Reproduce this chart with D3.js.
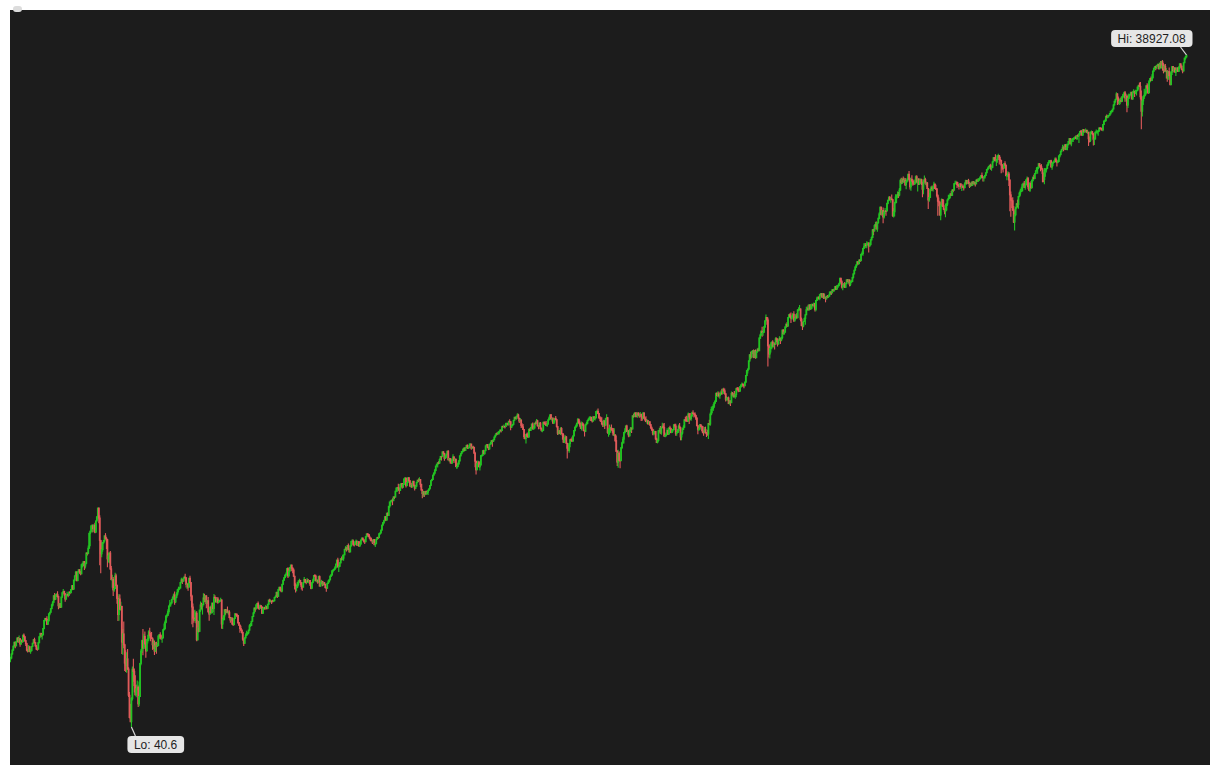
<!DOCTYPE html>
<html>
<head>
<meta charset="utf-8">
<script src="https://cdn.jsdelivr.net/npm/d3@7"></script>
<style>
  html, body { margin: 0; padding: 0; background: #ffffff; }
  svg { display: block; }
</style>
</head>
<body>
<svg id="chart" width="1220" height="775"></svg>
<script>
// Monthly candles, Jan 1922 .. Feb 2024 (Dow Jones Industrial Average, log scale)
const startYear = 1922;
const firstOpen = 81.1;
const closes = [
/*1922*/ 82.0,85.5,89.0,92.5,96.4,93.0,97.1,100.8,97.0,100.0,94.7,98.2,
/*1923*/ 97.0,103.6,102.0,98.0,95.0,89.0,88.0,92.0,87.9,88.5,92.3,95.5,
/*1924*/ 99.0,96.0,93.0,90.0,89.9,96.0,102.0,105.6,103.0,104.0,111.0,120.5,
/*1925*/ 123.0,122.0,116.0,120.0,129.0,131.0,136.0,141.0,145.0,155.0,150.0,156.7,
/*1926*/ 157.0,154.0,140.0,143.0,138.0,153.0,160.0,162.0,158.0,150.0,156.0,157.2,
/*1927*/ 156.0,161.0,160.0,165.0,172.0,166.0,182.0,190.0,197.0,181.0,198.0,202.4,
/*1928*/ 198.0,194.0,213.0,216.0,220.0,210.0,216.0,240.0,239.0,252.0,293.0,300.0,
/*1929*/ 317.0,317.0,308.0,319.0,297.0,333.0,347.0,380.0,343.0,273.0,238.0,248.5,
/*1930*/ 267.0,272.0,286.0,279.0,275.0,226.0,233.0,240.0,204.0,183.0,183.0,164.6,
/*1931*/ 167.0,190.0,172.0,151.0,128.0,150.0,135.0,139.0,96.6,105.0,93.9,77.9,
/*1932*/ 76.2,81.4,73.3,56.1,44.7,42.8,54.3,73.2,71.6,61.9,56.4,59.9,
/*1933*/ 60.9,51.4,55.4,77.7,88.1,98.1,90.8,102.4,94.8,88.2,98.1,99.9,
/*1934*/ 107.2,103.5,101.0,100.5,94.0,95.7,88.1,93.0,92.6,93.4,102.9,104.0,
/*1935*/ 101.7,100.6,100.8,109.5,110.6,118.2,126.2,127.0,131.9,139.7,142.3,144.1,
/*1936*/ 149.5,152.5,156.3,145.7,152.6,157.7,164.9,166.3,167.8,177.4,182.5,179.9,
/*1937*/ 184.7,187.2,186.4,174.3,174.7,169.3,185.5,177.4,154.6,138.2,123.5,120.9,
/*1938*/ 121.9,129.6,98.9,111.4,107.7,133.9,141.2,139.3,141.4,151.7,149.8,154.8,
/*1939*/ 143.3,147.3,131.8,128.6,138.0,130.6,143.3,136.2,152.5,151.9,145.7,150.2,
/*1940*/ 145.3,146.5,147.5,148.4,116.2,121.9,126.1,134.5,132.6,133.8,131.0,131.1,
/*1941*/ 124.1,121.0,122.7,116.2,115.3,123.1,128.8,127.4,126.8,117.8,114.7,111.0,
/*1942*/ 109.1,106.6,99.5,95.4,100.9,103.3,105.7,106.3,109.1,114.1,114.5,119.4,
/*1943*/ 125.4,130.0,136.6,135.5,141.2,143.4,137.0,136.2,140.1,138.3,129.6,135.9,
/*1944*/ 137.4,136.3,138.8,136.2,142.2,148.4,146.1,146.9,146.7,146.5,147.3,152.3,
/*1945*/ 153.8,160.4,154.1,165.4,169.1,164.9,162.9,174.3,181.7,186.6,191.5,192.9,
/*1946*/ 204.7,190.1,199.6,206.8,212.3,205.6,201.6,189.2,172.4,169.2,169.8,177.2,
/*1947*/ 180.4,181.4,177.2,170.6,169.3,177.3,183.2,178.9,177.5,181.8,179.4,181.2,
/*1948*/ 175.0,167.3,177.2,180.5,190.7,189.5,181.3,181.7,178.3,188.6,171.2,177.3,
/*1949*/ 179.1,173.1,177.1,174.1,168.4,167.4,175.9,178.7,182.5,189.5,191.6,200.1,
/*1950*/ 201.8,203.4,206.1,214.3,223.4,209.1,209.4,216.9,226.4,225.0,227.6,235.4,
/*1951*/ 248.8,252.1,247.9,259.1,249.7,242.6,257.9,270.3,271.2,262.4,261.3,269.2,
/*1952*/ 270.7,260.1,269.5,257.6,262.9,274.3,279.6,275.0,271.0,269.2,283.7,291.9,
/*1953*/ 289.8,284.3,279.9,274.8,272.3,268.3,275.4,261.2,264.0,276.0,281.4,280.9,
/*1954*/ 292.4,294.5,303.5,319.3,327.5,333.5,347.9,335.8,360.5,352.1,386.8,404.4,
/*1955*/ 408.8,411.9,409.7,425.7,424.9,451.4,465.9,468.2,466.6,454.9,483.3,488.4,
/*1956*/ 470.7,483.7,511.8,516.1,478.1,492.8,517.8,502.0,475.3,479.9,472.8,499.5,
/*1957*/ 479.2,464.6,474.8,494.4,504.9,503.3,508.5,484.4,456.3,441.0,449.9,435.7,
/*1958*/ 450.0,439.9,446.8,455.9,462.7,478.2,502.9,508.6,532.1,543.2,557.5,583.7,
/*1959*/ 594.0,603.5,601.7,624.0,643.8,643.6,674.9,664.4,631.7,646.6,659.2,679.4,
/*1960*/ 622.6,630.1,616.6,601.7,625.5,640.6,616.7,626.0,580.1,580.4,597.2,615.9,
/*1961*/ 648.2,662.1,676.6,678.7,696.7,684.0,705.4,719.9,701.2,703.9,721.6,731.1,
/*1962*/ 700.0,708.1,707.0,665.3,613.4,561.3,597.9,609.2,579.0,589.8,649.3,652.1,
/*1963*/ 682.9,662.9,682.5,717.7,727.0,706.9,695.4,729.3,732.8,755.2,750.5,763.0,
/*1964*/ 785.3,800.1,813.3,810.8,820.6,831.5,841.1,838.5,875.4,873.1,875.4,874.1,
/*1965*/ 903.0,903.5,889.1,922.3,918.0,868.0,881.7,893.1,930.6,960.8,946.7,969.3,
/*1966*/ 983.5,951.9,924.8,933.7,884.1,870.1,847.4,788.4,774.2,807.1,791.6,785.7,
/*1967*/ 849.9,839.4,866.0,897.1,852.6,860.3,904.2,901.3,926.7,879.7,875.8,905.1,
/*1968*/ 855.5,840.5,840.7,912.2,899.0,897.8,883.0,896.0,935.8,952.4,985.1,943.8,
/*1969*/ 946.1,905.2,935.5,950.2,937.6,873.2,815.5,836.7,813.1,856.0,812.3,800.4,
/*1970*/ 744.1,777.6,785.6,736.1,700.4,683.5,734.1,764.6,760.7,755.6,794.1,838.9,
/*1971*/ 868.5,878.8,904.4,941.8,907.8,891.1,858.4,898.1,887.2,839.0,831.3,890.2,
/*1972*/ 902.2,928.1,940.7,954.2,960.7,929.0,924.7,963.7,953.3,955.5,1018,1020,
/*1973*/ 999.0,955.1,951.0,921.4,901.4,891.7,926.4,887.6,947.1,956.6,822.3,850.9,
/*1974*/ 855.6,860.5,846.7,836.8,802.2,802.4,757.4,678.6,607.9,665.5,618.7,616.2,
/*1975*/ 703.7,739.1,768.2,821.3,832.3,879.0,831.5,835.3,793.9,836.0,860.7,852.4,
/*1976*/ 975.3,972.6,999.5,996.9,975.2,1003,984.6,973.7,990.2,964.9,947.2,1004.7,
/*1977*/ 954.4,936.4,919.1,926.9,898.7,916.3,890.1,861.5,847.1,818.4,829.7,831.2,
/*1978*/ 769.9,742.1,757.4,837.3,840.6,819.0,862.3,876.8,865.8,792.5,799.0,805.0,
/*1979*/ 839.2,808.8,862.2,854.9,822.3,842.0,846.4,887.6,878.6,815.7,822.4,838.7,
/*1980*/ 875.9,863.1,785.8,817.1,850.9,867.9,935.3,932.6,932.4,924.5,993.3,964.0,
/*1981*/ 947.3,974.6,1003.9,997.8,991.8,976.9,952.3,881.5,850.0,853.2,889.0,875.0,
/*1982*/ 871.1,824.4,822.8,848.4,819.5,811.9,808.6,901.3,896.3,991.7,1039.3,1046.5,
/*1983*/ 1075.7,1112.6,1130.0,1226.2,1200.0,1222.0,1199.2,1216.2,1233.1,1225.2,1276.0,1258.6,
/*1984*/ 1220.6,1154.6,1164.9,1170.8,1104.9,1132.4,1115.3,1224.4,1206.7,1207.4,1188.9,1211.6,
/*1985*/ 1286.8,1284.0,1266.8,1258.1,1315.4,1335.5,1347.5,1334.0,1328.6,1374.3,1472.1,1546.7,
/*1986*/ 1571.0,1709.1,1818.6,1784.0,1876.7,1892.7,1775.3,1898.3,1767.6,1877.8,1914.2,1896.0,
/*1987*/ 2158.0,2224.0,2304.7,2286.4,2291.6,2418.5,2572.1,2663.0,2596.3,1993.5,1833.6,1938.8,
/*1988*/ 1958.2,2071.6,1988.1,2032.3,2031.1,2141.7,2128.7,2031.7,2112.9,2148.7,2114.5,2168.6,
/*1989*/ 2342.3,2258.4,2293.6,2418.8,2480.2,2440.1,2660.7,2737.3,2692.8,2645.1,2706.3,2753.2,
/*1990*/ 2590.5,2627.3,2707.2,2656.8,2876.7,2880.7,2905.2,2614.4,2452.5,2442.3,2559.7,2633.7,
/*1991*/ 2736.4,2882.2,2913.9,2887.9,3027.5,2906.8,3024.8,3043.6,3016.8,3069.1,2894.7,3168.8,
/*1992*/ 3223.4,3267.7,3235.5,3359.1,3396.9,3318.5,3393.8,3257.4,3271.7,3226.3,3305.2,3301.1,
/*1993*/ 3310.0,3370.8,3435.1,3427.6,3527.4,3516.1,3539.5,3651.3,3555.1,3680.6,3684.0,3754.1,
/*1994*/ 3978.4,3832.0,3636.0,3681.7,3758.4,3625.0,3764.5,3913.4,3843.2,3908.1,3739.2,3834.4,
/*1995*/ 3843.9,4011.1,4157.7,4321.3,4465.1,4556.1,4708.5,4610.6,4789.1,4755.5,5074.5,5117.1,
/*1996*/ 5395.3,5485.6,5587.1,5569.1,5643.2,5654.6,5528.9,5616.2,5882.2,6029.4,6521.7,6448.3,
/*1997*/ 6813.1,6877.7,6583.5,7009.0,7331.0,7672.8,8222.6,7622.4,7945.3,7442.1,7823.1,7908.3,
/*1998*/ 7906.5,8545.7,8799.8,9063.4,8900.0,8952.0,8883.3,7539.1,7842.6,8592.1,9116.6,9181.4,
/*1999*/ 9358.8,9306.6,9786.2,10789,10560,10971,10655,10829,10337,10730,10878,11497,
/*2000*/ 10941,10128,10922,10734,10522,10448,10522,11215,10651,10971,10415,10788,
/*2001*/ 10887,10495,9879,10735,10912,10502,10523,9950,8848,9075,9852,10022,
/*2002*/ 9920,10106,10404,9946,9925,9243,8737,8664,7592,8397,8896,8342,
/*2003*/ 8054,7891,7992,8480,8850,8985,9234,9416,9275,9801,9783,10454,
/*2004*/ 10488,10584,10358,10226,10188,10436,10140,10174,10080,10028,10428,10783,
/*2005*/ 10490,10766,10504,10193,10468,10275,10641,10482,10569,10440,10806,10718,
/*2006*/ 10865,10993,11109,11367,11168,11150,11186,11381,11679,12081,12222,12463,
/*2007*/ 12622,12269,12354,13063,13628,13409,13212,13358,13896,13930,13372,13265,
/*2008*/ 12650,12266,12263,12820,12638,11350,11378,11544,10851,9325,8829,8776,
/*2009*/ 8001,7063,7609,8168,8500,8447,9172,9496,9712,9713,10345,10428,
/*2010*/ 10067,10325,10857,11009,10137,9774,10466,10015,10788,11119,11006,11578,
/*2011*/ 11892,12226,12320,12811,12570,12414,12143,11614,10913,11955,12046,12218,
/*2012*/ 12633,12952,13212,13214,12393,12880,13009,13091,13437,13097,13026,13104,
/*2013*/ 13861,14055,14579,14840,15116,14910,15500,14810,15130,15546,16086,16577,
/*2014*/ 15699,16322,16458,16581,16717,16827,16563,17098,17043,17391,17828,17823,
/*2015*/ 17165,18133,17776,17841,18011,17620,17690,16528,16285,17664,17720,17425,
/*2016*/ 16466,16517,17685,17774,17787,17930,18432,18401,18308,18142,19124,19763,
/*2017*/ 19864,20812,20663,20941,21009,21350,21891,21948,22405,23377,24272,24719,
/*2018*/ 26149,25029,24103,24163,24416,24271,25415,25965,26458,25116,25539,23328,
/*2019*/ 25000,25916,25929,26593,24815,26600,26864,26403,26917,27046,28051,28538,
/*2020*/ 28256,25409,21917,24346,25383,25813,26428,28430,27782,26502,29639,30607,
/*2021*/ 29983,30932,32982,33875,34529,34503,34936,35361,33844,35820,34484,36338,
/*2022*/ 35132,33893,34678,32977,32990,30775,32845,31510,28726,32733,34590,33147,
/*2023*/ 34086,32657,33274,34098,32908,34408,35560,34722,33508,33053,35951,37690,
/*2024*/ 38150,38797
];
const highs = [
/*1922*/ 83.2,86.0,89.5,93.5,96.8,96.5,97.5,101.0,101.5,103.4,100.5,99.0,
/*1923*/ 99.5,104.0,105.4,102.5,98.5,96.0,90.0,93.7,92.5,89.5,92.8,95.8,
/*1924*/ 99.5,101.0,96.5,93.5,91.5,96.5,102.5,105.6,105.5,105.0,111.5,121.0,
/*1925*/ 123.6,123.5,125.7,120.5,129.5,131.5,136.5,143.0,147.0,156.0,159.4,157.0,
/*1926*/ 159.0,162.3,155.0,144.0,144.0,153.5,160.5,166.1,163.0,159.0,157.0,161.5,
/*1927*/ 158.5,161.5,162.0,166.0,172.5,172.5,182.5,190.5,199.8,199.0,198.5,202.5,
/*1928*/ 203.0,199.0,214.0,216.9,220.9,221.0,217.0,241.0,241.7,259.0,295.6,300.0,
/*1929*/ 317.5,322.0,321.0,320.0,327.0,333.8,350.0,380.3,381.2,352.9,273.0,267.6,
/*1930*/ 268.0,274.0,286.1,294.1,282.0,276.9,240.4,241.0,245.1,210.0,192.0,187.7,
/*1931*/ 176.6,196.3,194.4,174.0,155.0,157.9,157.1,146.0,140.0,110.5,119.2,95.0,
/*1932*/ 88.8,87.0,89.9,74.6,58.0,51.4,55.0,75.2,81.4,73.8,68.9,62.6,
/*1933*/ 65.2,62.0,64.6,77.9,90.0,99.0,110.5,105.1,107.7,99.6,99.8,104.0,
/*1934*/ 109.1,111.9,106.0,107.0,101.0,99.4,98.2,96.7,96.8,95.7,103.0,105.0,
/*1935*/ 106.7,104.0,101.7,110.0,116.8,120.4,126.5,129.3,135.1,140.0,148.4,144.6,
/*1936*/ 150.0,154.4,158.8,161.9,153.1,160.6,165.6,170.2,169.2,178.5,186.2,184.0,
/*1937*/ 187.4,190.3,194.4,187.0,177.2,175.7,186.1,190.4,178.1,156.8,143.1,133.3,
/*1938*/ 134.3,132.1,132.5,121.0,119.7,134.5,146.3,144.5,142.9,158.9,158.4,155.5,
/*1939*/ 156.0,148.6,153.2,133.0,138.9,140.3,145.0,144.7,157.8,155.9,153.0,150.4,
/*1940*/ 153.3,148.9,148.8,152.1,149.5,124.0,127.0,134.6,135.5,135.2,138.9,133.2,
/*1941*/ 133.6,124.7,124.9,124.6,117.6,123.9,130.1,128.8,129.3,126.8,118.4,115.7,
/*1942*/ 114.2,109.9,107.4,100.2,101.1,105.4,108.4,107.4,109.6,116.0,117.3,119.7,
/*1943*/ 125.6,131.3,137.4,137.5,142.1,143.9,146.4,138.7,141.8,140.9,138.9,136.2,
/*1944*/ 138.6,137.6,141.1,139.1,142.3,148.6,150.5,148.9,147.4,148.7,148.5,152.9,
/*1945*/ 155.9,161.5,161.5,165.7,169.4,169.9,168.5,174.3,182.1,187.0,192.1,196.6,
/*1946*/ 205.4,207.5,200.6,208.3,212.5,211.5,207.6,205.0,190.0,176.0,174.4,178.5,
/*1947*/ 180.9,184.5,182.0,177.6,172.0,178.0,187.7,184.0,179.5,186.0,183.9,182.2,
/*1948*/ 181.6,175.4,177.4,184.3,191.1,193.2,192.0,183.5,182.6,190.2,190.6,178.7,
/*1949*/ 182.5,180.5,178.9,178.5,175.3,169.5,176.0,182.0,183.3,190.2,193.6,200.5,
/*1950*/ 202.1,204.1,209.8,215.3,223.5,228.4,211.4,219.0,227.0,231.7,235.5,236.0,
/*1951*/ 250.0,257.3,255.0,259.5,264.3,251.5,258.3,270.7,276.4,275.6,264.1,270.1,
/*1952*/ 275.4,271.1,269.6,270.0,264.0,274.4,280.3,280.3,276.1,272.5,284.3,292.0,
/*1953*/ 293.8,292.1,290.6,281.0,280.3,273.1,275.8,277.0,265.3,276.3,282.5,283.5,
/*1954*/ 293.0,296.1,304.0,319.3,328.0,336.9,348.5,350.4,361.0,363.0,388.0,404.5,
/*1955*/ 408.9,413.0,419.7,427.0,427.5,451.4,468.5,468.5,487.5,466.8,487.4,488.7,
/*1956*/ 488.5,485.7,513.0,521.0,518.0,493.6,519.0,521.0,506.0,490.0,492.0,500.0,
/*1957*/ 500.0,481.5,477.0,495.0,506.0,514.0,520.8,510.0,486.0,461.0,451.0,452.0,
/*1958*/ 452.0,455.0,450.0,456.0,463.0,479.0,503.0,513.0,532.5,546.0,567.0,584.0,
/*1959*/ 597.0,605.0,613.0,630.0,644.0,645.0,675.0,678.1,666.0,650.0,660.0,680.0,
/*1960*/ 685.5,636.0,634.0,630.0,626.0,658.0,644.0,632.0,628.0,596.0,605.0,617.0,
/*1961*/ 649.0,664.0,680.0,696.0,706.0,706.0,706.0,726.0,728.0,708.0,734.0,735.0,
/*1962*/ 732.0,712.0,718.0,708.0,676.0,615.0,600.0,617.0,610.0,594.0,649.5,655.0,
/*1963*/ 684.0,690.0,684.0,718.0,728.0,729.0,710.0,730.0,747.0,761.0,760.0,767.0,
/*1964*/ 788.0,801.0,819.0,827.0,830.0,833.0,851.0,845.0,876.0,882.0,892.0,878.0,
/*1965*/ 905.0,906.0,906.0,923.0,940.9,920.0,886.0,896.0,932.0,962.0,962.0,974.0,
/*1966*/ 1001,995.0,953.0,954.0,938.0,904.0,898.0,850.0,800.0,810.0,820.0,822.0,
/*1967*/ 853.0,861.0,869.0,898.0,910.0,880.0,905.0,920.0,944.0,936.0,888.0,909.0,
/*1968*/ 915.0,866.0,846.0,918.0,921.0,919.0,925.0,900.0,937.0,969.0,986.0,994.0,
/*1969*/ 958.0,960.0,938.0,952.0,974.0,939.0,877.0,839.0,843.0,867.0,868.0,812.0,
/*1970*/ 815.0,780.0,800.0,794.0,738.0,725.0,736.0,767.0,776.0,787.0,795.0,843.0,
/*1971*/ 871.0,893.0,907.0,951.0,944.0,929.0,905.0,920.0,913.0,901.0,846.0,893.0,
/*1972*/ 917.0,931.0,950.0,968.0,971.0,964.0,942.0,974.0,970.0,963.0,1025,1037,
/*1973*/ 1052,1001,974.0,967.0,960.0,910.0,937.0,928.0,951.0,992.0,961.0,857.0,
/*1974*/ 891.0,871.0,891.7,860.0,862.0,859.0,806.0,797.0,688.0,690.0,679.0,624.0,
/*1975*/ 708.0,748.0,787.0,827.0,858.0,881.0,889.0,846.0,844.0,853.0,869.0,863.0,
/*1976*/ 977.0,995.0,1011,1012,1010,1007,1012,1001,1015,997.0,967.0,1006,
/*1977*/ 1005,955.0,970.0,944.0,934.0,921.0,925.0,896.0,874.0,854.0,848.0,834.0,
/*1978*/ 831.0,780.0,765.0,840.0,864.0,878.0,866.0,907.7,902.0,907.0,816.0,825.0,
/*1979*/ 858.0,840.0,866.0,880.0,863.0,853.0,852.0,897.0,900.0,900.0,834.0,852.0,
/*1980*/ 893.0,906.0,870.0,823.0,862.0,885.0,944.0,966.0,975.0,972.0,1009,1004,
/*1981*/ 1004,979.0,1016,1031,1003,1012,987.0,960.0,886.0,880.0,896.0,898.0,
/*1982*/ 886.0,877.0,840.0,870.0,873.0,826.0,845.0,904.0,936.0,1008,1070,1078,
/*1983*/ 1100,1122,1146,1234,1240,1253,1248,1222,1263,1286,1292,1298,
/*1984*/ 1290,1229,1190,1183,1187,1145,1143,1250,1245,1234,1255,1221,
/*1985*/ 1299,1310,1310,1290,1320,1346,1372,1355,1345,1385,1480,1553,
/*1986*/ 1582,1715,1830,1878,1890,1908,1920,1905,1920,1885,1943,1955,
/*1987*/ 2175,2255,2340,2420,2350,2440,2590,2747,2660,2660,2000,2030,
/*1988*/ 2070,2080,2110,2070,2060,2175,2170,2150,2125,2200,2165,2185,
/*1989*/ 2350,2360,2340,2430,2510,2540,2670,2760,2780,2800,2720,2790,
/*1990*/ 2835,2670,2760,2780,2900,2955,3024,2920,2660,2540,2570,2660,
/*1991*/ 2750,2970,2980,3030,3040,3045,3040,3070,3060,3100,3085,3180,
/*1992*/ 3290,3300,3310,3380,3420,3410,3420,3400,3390,3290,3320,3350,
/*1993*/ 3330,3470,3490,3490,3560,3560,3580,3670,3680,3700,3730,3800,
/*1994*/ 3990,3980,3900,3720,3780,3830,3790,3930,3950,3940,3920,3880,
/*1995*/ 3900,4020,4170,4330,4480,4580,4730,4710,4820,4830,5110,5230,
/*1996*/ 5400,5690,5700,5700,5800,5760,5740,5750,5920,6100,6570,6590,
/*1997*/ 6900,7080,7110,7050,7400,7800,8250,8260,7990,8200,7900,8150,
/*1998*/ 7980,8600,8900,9190,9220,9080,9370,8900,8160,8700,9380,9370,
/*1999*/ 9650,9600,10000,11000,11100,11000,11250,11100,11080,10800,11090,11570,
/*2000*/ 11908,11040,11130,11400,10950,10800,10900,11350,11400,11000,11030,10990,
/*2001*/ 11020,11000,10660,10890,11350,11100,10700,10620,10000,9500,9900,10200,
/*2002*/ 10260,10180,10670,10450,10350,9930,9390,9080,8700,8540,8980,8930,
/*2003*/ 8870,8100,8530,8550,8900,9340,9330,9470,9690,9830,9900,10480,
/*2004*/ 10760,10760,10690,10600,10300,10500,10450,10250,10390,10250,10600,10870,
/*2005*/ 10860,10870,10980,10600,10550,10650,10720,10720,10720,10600,10960,10990,
/*2006*/ 11050,11080,11280,11400,11710,11250,11260,11430,11720,12150,12360,12530,
/*2007*/ 12660,12800,12480,13120,13700,13700,14120,13460,13930,14198,13960,13750,
/*2008*/ 13320,12770,12620,12900,13140,12630,11750,11860,11790,10900,9650,9030,
/*2009*/ 9100,8320,7930,8260,8580,8880,9200,9630,9920,10120,10470,10580,
/*2010*/ 10730,10420,10930,11260,11200,10600,10560,10720,10950,11250,11450,11650,
/*2011*/ 12020,12390,12420,12880,12880,12570,12760,12230,11720,12280,12200,12260,
/*2012*/ 12790,13050,13300,13300,13340,12900,13100,13330,13650,13660,13290,13360,
/*2013*/ 13970,14150,14590,14890,15540,15340,15640,15660,15710,15710,16170,16590,
/*2014*/ 16590,16400,16630,16630,16740,16980,17150,17150,17350,17400,17900,18100,
/*2015*/ 18100,18250,18290,18150,18350,18150,18140,17720,16930,17800,17980,17900,
/*2016*/ 17430,16750,17790,18170,18000,18020,18620,18670,18540,18400,19180,19990,
/*2017*/ 20130,20850,21170,21070,21110,21540,21930,22180,22420,23490,24330,24880,
/*2018*/ 26617,26310,25450,24860,25090,25400,25530,26170,26770,26950,26280,25980,
/*2019*/ 25100,26240,26110,26700,26620,26900,27400,26930,27310,27120,28170,28700,
/*2020*/ 29374,29569,27100,24770,25760,27580,27000,28500,29200,28960,30120,30640,
/*2021*/ 31270,31970,33260,34260,34710,34850,35170,35630,35450,35900,36570,36680,
/*2022*/ 36953,35820,35370,35490,34120,33300,32950,34280,32500,32790,34600,34710,
/*2023*/ 34340,34340,33580,34260,34260,34590,35680,35680,34980,33900,36000,37780,
/*2024*/ 38620,38927.08
];
const lows = [
/*1922*/ 78.6,81.5,85.0,88.5,91.5,90.7,92.5,96.5,96.0,96.5,92.0,94.0,
/*1923*/ 96.0,96.5,101.0,97.0,92.8,87.9,86.9,87.5,87.0,85.8,88.0,92.0,
/*1924*/ 94.9,95.5,92.0,89.0,88.3,89.5,95.5,101.0,101.5,99.2,103.5,110.0,
/*1925*/ 119.5,119.5,115.0,115.0,119.5,127.0,130.5,135.0,139.0,144.5,148.0,148.5,
/*1926*/ 153.0,152.5,135.2,136.5,137.0,137.5,152.0,159.0,155.0,145.7,149.0,155.0,
/*1927*/ 152.7,155.0,157.5,159.0,164.0,164.5,165.5,180.0,189.0,179.8,180.5,196.0,
/*1928*/ 194.0,191.3,193.5,207.0,210.0,201.9,205.0,214.0,234.0,237.0,251.0,257.3,
/*1929*/ 296.0,295.9,296.5,299.0,293.4,296.0,332.0,337.0,325.2,212.0,195.4,230.0,
/*1930*/ 243.0,264.0,269.0,276.0,249.8,207.7,217.6,216.3,201.9,181.5,168.3,154.5,
/*1931*/ 161.4,167.0,172.0,142.9,119.9,120.0,134.0,132.9,85.5,84.9,90.6,71.8,
/*1932*/ 71.2,70.6,72.8,55.1,44.3,42.8,40.56,53.2,64.4,57.7,56.0,55.0,
/*1933*/ 59.1,49.7,50.2,55.1,76.3,86.5,84.5,90.0,91.9,82.2,87.9,95.2,
/*1934*/ 97.5,101.1,97.5,99.6,89.2,89.9,84.6,87.4,85.7,92.0,92.8,99.7,
/*1935*/ 99.4,99.0,95.9,100.5,108.9,110.1,117.0,124.0,126.5,128.9,139.0,138.9,
/*1936*/ 143.1,148.9,149.2,141.5,143.9,151.3,155.3,160.5,165.0,167.5,176.8,175.0,
/*1937*/ 179.3,183.6,179.3,168.9,166.2,163.3,169.1,175.1,147.4,115.8,112.5,117.7,
/*1938*/ 119.9,117.1,97.5,98.1,106.4,107.5,131.5,134.7,127.9,141.0,145.2,145.6,
/*1939*/ 136.4,142.8,130.5,120.0,128.3,129.5,129.5,131.3,127.5,149.0,144.9,144.6,
/*1940*/ 143.0,144.2,145.7,145.7,110.6,110.4,120.5,120.6,127.7,129.7,129.7,127.8,
/*1941*/ 123.3,117.7,120.3,115.3,114.2,115.3,122.6,124.9,124.5,116.6,114.5,106.3,
/*1942*/ 108.4,105.4,98.0,92.9,94.6,100.2,102.7,103.9,104.6,108.5,112.9,113.9,
/*1943*/ 119.3,125.0,129.8,131.7,135.3,139.5,135.6,133.9,135.7,136.5,128.9,129.2,
/*1944*/ 135.6,134.2,136.0,134.8,136.0,141.4,145.4,144.8,142.4,145.2,145.6,147.0,
/*1945*/ 151.4,153.5,151.7,153.6,163.3,162.8,160.9,160.9,173.8,181.0,186.1,187.6,
/*1946*/ 191.7,186.0,188.5,199.2,203.6,199.3,195.2,188.5,165.4,160.5,162.3,167.6,
/*1947*/ 171.8,177.7,172.8,165.4,163.2,168.9,176.8,176.5,174.5,177.0,177.1,175.9,
/*1948*/ 171.3,165.6,166.8,176.5,180.3,187.8,179.3,178.2,175.4,177.6,171.0,170.4,
/*1949*/ 175.1,170.9,172.6,172.9,167.8,161.6,166.9,175.5,177.8,181.8,187.9,191.3,
/*1950*/ 196.8,200.4,202.3,205.8,213.5,206.7,197.5,208.5,216.0,222.6,222.7,222.0,
/*1951*/ 235.0,248.5,243.9,247.2,247.5,242.1,242.2,257.4,269.4,258.4,256.4,261.0,
/*1952*/ 267.8,258.5,259.9,256.4,256.9,262.5,272.8,273.4,267.1,263.1,268.5,281.0,
/*1953*/ 285.2,282.9,277.5,270.7,271.5,262.9,268.0,260.9,255.5,263.8,275.6,277.5,
/*1954*/ 279.9,289.5,294.0,302.0,318.2,322.5,333.0,335.4,335.0,350.3,351.5,380.0,
/*1955*/ 388.2,403.0,391.4,409.0,417.0,424.0,450.0,448.8,455.0,438.6,454.5,480.0,
/*1956*/ 462.4,466.0,483.0,505.0,468.8,475.0,492.0,496.0,475.0,469.0,466.0,470.0,
/*1957*/ 475.0,454.8,463.0,473.0,493.0,496.0,502.0,470.0,456.0,419.8,427.0,425.0,
/*1958*/ 434.7,436.0,437.0,434.0,453.0,461.0,478.0,501.0,506.0,530.0,537.0,553.0,
/*1959*/ 581.0,574.5,597.0,598.0,621.0,617.6,642.0,656.0,616.5,627.0,634.0,658.0,
/*1960*/ 618.0,610.0,599.0,599.5,598.0,623.0,601.7,613.0,579.0,566.0,579.0,592.0,
/*1961*/ 610.0,644.0,660.0,670.0,677.0,680.0,681.0,703.0,695.0,696.0,703.0,719.0,
/*1962*/ 689.0,698.0,700.0,663.0,576.9,535.8,562.0,594.0,578.0,558.0,588.0,640.0,
/*1963*/ 646.0,660.0,655.0,680.0,714.0,702.0,687.0,690.0,727.0,732.0,711.0,749.0,
/*1964*/ 762.0,783.0,800.0,806.0,808.0,806.0,830.0,823.0,837.0,866.0,868.0,857.0,
/*1965*/ 869.0,887.0,885.0,887.0,912.0,840.6,861.0,878.0,892.0,929.0,945.0,940.0,
/*1966*/ 968.0,950.0,905.0,922.0,860.0,867.0,843.0,769.0,766.0,735.7,786.0,779.0,
/*1967*/ 782.0,836.0,837.0,856.0,851.0,847.0,858.0,893.0,899.0,878.0,849.6,873.0,
/*1968*/ 849.0,831.0,825.0,838.0,893.0,889.0,879.0,869.0,893.0,933.0,942.0,940.0,
/*1969*/ 919.0,899.0,896.0,910.0,934.0,866.0,801.0,806.0,810.0,802.0,810.0,764.0,
/*1970*/ 742.0,740.0,762.0,735.0,631.0,682.0,668.0,707.0,747.0,748.0,747.0,792.0,
/*1971*/ 830.0,866.0,874.0,902.0,900.0,871.0,855.0,839.0,880.0,837.0,790.0,828.0,
/*1972*/ 886.0,898.0,926.0,938.0,925.0,924.0,910.0,921.0,935.0,930.0,952.0,1000,
/*1973*/ 990.0,948.0,922.0,915.0,886.0,869.0,870.0,851.9,880.0,940.0,812.0,788.3,
/*1974*/ 803.0,820.0,839.0,816.0,795.0,791.0,747.0,676.0,584.6,573.2,612.0,570.0,
/*1975*/ 617.0,696.0,736.0,735.0,814.0,824.0,827.0,803.0,784.0,793.0,827.0,818.0,
/*1976*/ 850.0,956.0,962.0,962.0,962.0,957.0,977.0,957.0,973.0,924.0,926.0,946.0,
/*1977*/ 950.0,922.0,915.0,900.0,893.0,895.0,882.0,855.0,836.0,800.0,799.0,806.0,
/*1978*/ 763.0,739.0,736.0,749.0,829.0,811.0,804.0,860.0,854.0,790.0,784.0,790.0,
/*1979*/ 802.0,803.0,807.0,848.0,817.0,819.0,825.0,844.0,861.0,796.0,796.0,820.0,
/*1980*/ 820.0,853.0,759.0,759.0,805.0,844.0,864.0,917.0,917.0,915.0,917.0,896.0,
/*1981*/ 932.0,927.0,967.0,990.0,959.0,963.0,934.0,877.0,807.5,834.0,846.0,865.0,
/*1982*/ 832.0,815.0,795.0,820.0,815.0,785.0,795.0,770.0,885.0,882.0,980.0,1000,
/*1983*/ 1023,1057,1100,1123,1185,1184,1176,1160,1210,1205,1220,1240,
/*1984*/ 1213,1130,1138,1140,1100,1095,1078,1112,1187,1172,1177,1160,
/*1985*/ 1180,1270,1240,1245,1245,1298,1325,1310,1292,1316,1370,1460,
/*1986*/ 1502,1561,1696,1740,1758,1835,1758,1763,1749,1755,1857,1895,
/*1987*/ 1890,2140,2210,2190,2210,2280,2395,2560,2470,1616,1770,1750,
/*1988*/ 1860,1925,1980,1960,1920,2020,2070,1980,2020,2105,2030,2090,
/*1989*/ 2130,2240,2230,2280,2390,2420,2430,2640,2650,2520,2600,2680,
/*1990*/ 2540,2550,2620,2630,2650,2840,2880,2560,2440,2344,2410,2550,
/*1991*/ 2470,2730,2850,2860,2850,2880,2900,2910,2980,2950,2830,2840,
/*1992*/ 3150,3180,3200,3180,3330,3260,3250,3220,3230,3110,3200,3260,
/*1993*/ 3250,3310,3360,3350,3410,3460,3460,3530,3530,3550,3600,3670,
/*1994*/ 3740,3780,3580,3520,3630,3610,3610,3740,3820,3770,3660,3670,
/*1995*/ 3800,3830,3970,4140,4300,4420,4540,4580,4600,4690,4740,5030,
/*1996*/ 5000,5380,5400,5450,5410,5580,5170,5500,5560,5860,6000,6180,
/*1997*/ 6420,6730,6560,6390,6960,7260,7640,7560,7580,6970,7330,7650,
/*1998*/ 7540,7880,8470,8730,8830,8600,8820,7450,7400,7470,8560,8580,
/*1999*/ 9000,9040,9200,9720,10400,10420,10590,10600,10210,9880,10580,10850,
/*2000*/ 10700,9860,9731,10300,10230,10300,10300,10500,10550,9654,10300,10300,
/*2001*/ 10440,10300,9100,9390,10600,10350,10160,9900,8062,8700,9050,9670,
/*2002*/ 9700,9660,10080,9900,9800,9070,7532,8300,7560,7197,8250,8230,
/*2003*/ 7990,7650,7416,7930,8330,8850,8950,9010,9240,9250,9580,9750,
/*2004*/ 10400,10400,10000,10200,9850,10150,9920,9700,10000,9750,10000,10400,
/*2005*/ 10370,10420,10400,10000,10100,10250,10230,10370,10280,10150,10400,10690,
/*2006*/ 10660,10750,10900,11000,11080,10700,10700,11000,11300,11650,11960,12150,
/*2007*/ 12350,12050,11940,12300,13030,13180,13150,12520,12950,13600,12720,13080,
/*2008*/ 11630,12000,11730,12200,12460,11280,10820,11200,10200,7880,7450,8150,
/*2009*/ 7900,7000,6470,7490,8100,8200,8090,9100,9250,9600,9680,10230,
/*2010*/ 10020,9830,10300,10850,9870,9750,9610,9940,10000,10700,10930,10980,
/*2011*/ 11580,11890,11560,12100,12330,11860,12100,10600,10600,10400,11230,11730,
/*2012*/ 12200,12600,12900,12710,12350,12040,12500,12950,13000,13000,12470,12880,
/*2013*/ 13100,13650,14000,14400,14760,14550,14860,14760,14770,14720,15500,15700,
/*2014*/ 15690,15340,16020,16000,16330,16650,16560,16330,16900,15855,17300,17070,
/*2015*/ 17140,17040,17580,17630,17790,17590,17400,15370,15940,16010,17300,17140,
/*2016*/ 15450,15500,16400,17480,17330,17060,17710,18250,18000,17950,17880,19100,
/*2017*/ 19680,19830,20410,20380,20550,20990,21200,21600,21710,22400,23240,23920,
/*2018*/ 24660,23360,23510,23340,23530,24000,24080,25000,25800,24120,24270,21712,
/*2019*/ 22640,24880,25200,25900,24810,24680,26560,25340,26100,25740,27050,27320,
/*2020*/ 28170,24680,18214,20740,23360,24840,25520,26020,26540,26140,26270,29500,
/*2021*/ 29860,29900,30550,32900,33470,33270,33740,34680,33610,33610,34000,33900,
/*2022*/ 33150,32270,32630,32910,30640,29650,30150,31480,28715,28660,31730,32570,
/*2023*/ 32810,32580,31430,33070,32810,32900,33700,34030,33480,32330,32990,35940,
/*2024*/ 37120,37960
];

// ---- build candles ----
const candles = closes.map((c, i) => {
  const o = i === 0 ? firstOpen : closes[i - 1];
  return {
    date: new Date(startYear, i, 1),
    open: o, close: c, high: highs[i], low: lows[i]
  };
});

const svg = d3.select("#chart");
const W = 1220, H = 775;
const panel = { x: 10, y: 10, w: 1200, h: 755 };

svg.append("rect").attr("x", 0).attr("y", 0).attr("width", W).attr("height", H).attr("fill", "#ffffff");
svg.append("rect")
  .attr("x", panel.x).attr("y", panel.y)
  .attr("width", panel.w).attr("height", panel.h)
  .attr("fill", "#1c1c1c");

svg.append("defs").append("clipPath").attr("id", "clip")
  .append("rect").attr("x", panel.x).attr("y", panel.y).attr("width", panel.w).attr("height", panel.h);

const x = d3.scaleTime()
  .domain([candles[0].date, candles[candles.length - 1].date])
  .range([10.5, 1186.5]);

const loVal = d3.min(candles, d => d.low);
const hiVal = d3.max(candles, d => d.high);
const y = d3.scaleLog().domain([loVal, hiVal]).range([727, 55]);

const green = "#22c322";
const red = "#e05a5a";
const col = d => d.close >= d.open ? green : red;

const g = svg.append("g").attr("clip-path", "url(#clip)");

// wicks
g.selectAll("line.wick").data(candles).join("line")
  .attr("class", "wick")
  .attr("x1", d => x(d.date)).attr("x2", d => x(d.date))
  .attr("y1", d => y(Math.max(d.high, d.open, d.close)))
  .attr("y2", d => y(Math.min(d.low, d.open, d.close)))
  .attr("stroke", col)
  .attr("stroke-width", 1.1);

// bodies
g.selectAll("rect.body").data(candles).join("rect")
  .attr("class", "body")
  .attr("x", d => x(d.date) - 0.9)
  .attr("width", 1.8)
  .attr("y", d => y(Math.max(d.open, d.close)) - 0.5)
  .attr("height", d => Math.max(1.5, y(Math.min(d.open, d.close)) - y(Math.max(d.open, d.close)) + 1))
  .attr("fill", col);

// ---- Hi / Lo labels ----
const hiC = candles.find(d => d.high === hiVal);
const loC = candles.find(d => d.low === loVal);
const fmtHi = "Hi: " + hiVal.toFixed(2);
const fmtLo = "Lo: " + (Math.round(loVal * 10) / 10);

function label(px, py, text, dx, dy, anchorRight) {
  const lg = svg.append("g");
  const t = lg.append("text")
    .attr("font-family", "'Helvetica Neue', Arial, 'Liberation Sans', sans-serif")
    .attr("font-size", 12)
    .attr("fill", "#1e1e1e")
    .text(text);
  const bb = t.node().getBBox();
  const padX = 6.5, h = 17;
  const w = bb.width + padX * 2;
  const bx = anchorRight ? px + dx - w : px + dx;
  const by = dy < 0 ? py + dy - h : py + dy;
  lg.insert("line", "text")
    .attr("x1", px).attr("y1", py)
    .attr("x2", anchorRight ? px - 6 : px + 4)
    .attr("y2", py + dy)
    .attr("stroke", "#d9d9d9").attr("stroke-width", 1.2);
  lg.insert("rect", "text")
    .attr("x", bx).attr("y", by).attr("width", w).attr("height", h)
    .attr("rx", 4).attr("fill", "#e6e6e6");
  t.attr("x", bx + padX).attr("y", by + 12.5);
}

label(x(hiC.date), y(hiC.high), fmtHi, 6, -8, true);
label(x(loC.date), y(loC.low), fmtLo, -4, 9, false);

// small element peeking at the top-left corner
svg.append("rect").attr("x", 13).attr("y", 6).attr("width", 9).attr("height", 6)
  .attr("rx", 3).attr("fill", "#dcdcdc");
</script>
</body>
</html>
